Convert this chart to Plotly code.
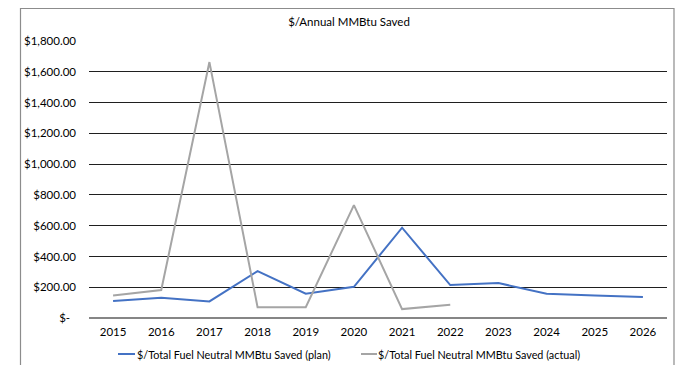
import plotly.graph_objects as go

years = ["2015", "2016", "2017", "2018", "2019", "2020",
         "2021", "2022", "2023", "2024", "2025", "2026"]
plan = [110, 132, 108, 305, 158, 203, 587, 214, 227, 158, 147, 136]
actual_years = ["2015", "2016", "2017", "2018", "2019", "2020", "2021", "2022"]
actual = [147, 182, 1664, 70, 70, 734, 58, 86]

series_names = ["$/Total Fuel Neutral MMBtu Saved (plan)",
                "$/Total Fuel Neutral MMBtu Saved (actual)"]
series_colors = ["#4472C4", "#A5A5A5"]

y_ticks = [0, 200, 400, 600, 800, 1000, 1200, 1400, 1600, 1800]
y_tick_text = ["$-\u00a0\u00a0"] + [f"${v:,.2f}" for v in y_ticks[1:]]

W, H = 678, 365
L, R, T, B = 89, 11, 41, 47
pw, ph = W - L - R, H - T - B

font = "Lato, 'Open Sans', sans-serif"
fs = 11.5
fs_title = 11.5
fs_legend = 10.8

fig = go.Figure()
fig.add_trace(go.Scatter(
    x=years, y=plan, mode="lines", name=series_names[0],
    line=dict(color=series_colors[0], width=2),
))
fig.add_trace(go.Scatter(
    x=actual_years, y=actual, mode="lines", name=series_names[1],
    line=dict(color=series_colors[1], width=2),
))


def px_x(p):
    return (p - L) / pw


def px_y(p):
    return 1 - (p - T) / ph


# chart-area border
fig.add_shape(type="rect", xref="paper", yref="paper",
              x0=px_x(20.5), x1=px_x(674), y0=px_y(380), y1=px_y(8.5),
              line=dict(color="#8C8C8C", width=1.2), layer="below")

# legend row under the axis: short line sample followed by the series name
legend_y = px_y(354)
legend_items = [(118, 135, 135), (361, 377, 376)]
for (x0, x1, tx), name, color in zip(legend_items, series_names, series_colors):
    fig.add_shape(type="line", xref="paper", yref="paper",
                  x0=px_x(x0), x1=px_x(x1), y0=legend_y, y1=legend_y,
                  line=dict(color=color, width=2))
    fig.add_annotation(text=name, xref="paper", yref="paper",
                       x=px_x(tx), y=legend_y, xanchor="left", yanchor="middle",
                       showarrow=False,
                       font=dict(size=fs_legend, color="#000000"))

fig.update_layout(
    width=W, height=H,
    margin=dict(l=L, r=R, t=T, b=B, pad=0, autoexpand=False),
    paper_bgcolor="white", plot_bgcolor="white",
    font=dict(family=font, size=fs, color="#000000"),
    title=dict(text="$/Annual MMBtu Saved", x=px_x(349), xref="paper",
               xanchor="center", y=1 - 22 / H, yref="container",
               yanchor="middle",
               font=dict(family=font, size=fs_title, color="#000000")),
    showlegend=False,
    xaxis=dict(type="category", range=[-0.5, 11.5], showgrid=False,
               showline=False, ticks="", zeroline=False,
               tickfont=dict(size=fs), ticklabelstandoff=5),
    yaxis=dict(range=[0, 1801], tickvals=y_ticks, ticktext=y_tick_text,
               showgrid=True, gridcolor="#1f1f1f", gridwidth=1,
               zeroline=True, zerolinecolor="#868686", zerolinewidth=1.6,
               showline=False, ticks="", tickfont=dict(size=fs),
               ticklabelstandoff=12),
)

fig.write_html("out.html")
